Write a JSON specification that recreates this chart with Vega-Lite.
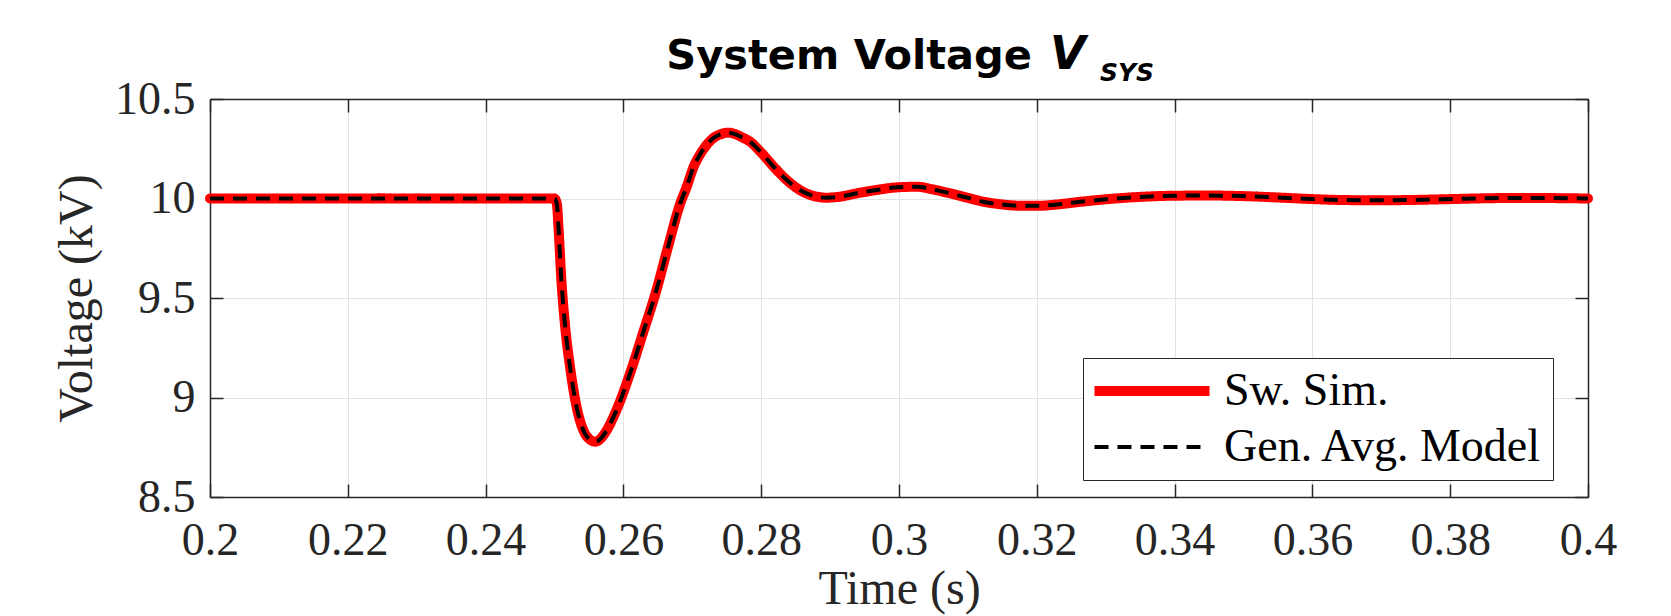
{
  "$schema": "https://vega.github.io/schema/vega-lite/v6.json",
  "width": 1378,
  "height": 398,
  "autosize": {"type": "none"},
  "padding": {"left": 210, "top": 99, "right": 83, "bottom": 119},
  "background": "white",
  "datasets": {
    "curve": [
      {"t": 0.2, "v": 10.0}, {"t": 0.25, "v": 10.0}, {"t": 0.25035, "v": 9.97}, {"t": 0.2506, "v": 9.842}, {"t": 0.251, "v": 9.59},
      {"t": 0.2515, "v": 9.373}, {"t": 0.25225, "v": 9.155}, {"t": 0.2532, "v": 8.954}, {"t": 0.2544, "v": 8.82}, {"t": 0.2551, "v": 8.79},
      {"t": 0.2559, "v": 8.778}, {"t": 0.2566, "v": 8.79}, {"t": 0.2573, "v": 8.82}, {"t": 0.259, "v": 8.937}, {"t": 0.261, "v": 9.125},
      {"t": 0.2629, "v": 9.33}, {"t": 0.2648, "v": 9.54}, {"t": 0.2665, "v": 9.76}, {"t": 0.2682, "v": 9.97}, {"t": 0.2692, "v": 10.06},
      {"t": 0.2702, "v": 10.16}, {"t": 0.2711, "v": 10.22}, {"t": 0.2721, "v": 10.27}, {"t": 0.2731, "v": 10.305}, {"t": 0.2741, "v": 10.323},
      {"t": 0.2752, "v": 10.331}, {"t": 0.2762, "v": 10.324}, {"t": 0.2772, "v": 10.308}, {"t": 0.2784, "v": 10.285}, {"t": 0.2801, "v": 10.227},
      {"t": 0.2818, "v": 10.16}, {"t": 0.2837, "v": 10.093}, {"t": 0.2856, "v": 10.043}, {"t": 0.2876, "v": 10.013}, {"t": 0.2895, "v": 10.004},
      {"t": 0.2914, "v": 10.009}, {"t": 0.2939, "v": 10.026}, {"t": 0.2968, "v": 10.043}, {"t": 0.2997, "v": 10.056}, {"t": 0.3026, "v": 10.059},
      {"t": 0.305, "v": 10.045}, {"t": 0.3074, "v": 10.026}, {"t": 0.3098, "v": 10.005}, {"t": 0.3122, "v": 9.984}, {"t": 0.315, "v": 9.97},
      {"t": 0.318, "v": 9.963}, {"t": 0.32, "v": 9.963}, {"t": 0.323, "v": 9.97}, {"t": 0.326, "v": 9.982}, {"t": 0.33, "v": 9.996},
      {"t": 0.335, "v": 10.008}, {"t": 0.34, "v": 10.014}, {"t": 0.345, "v": 10.015}, {"t": 0.35, "v": 10.012}, {"t": 0.355, "v": 10.005},
      {"t": 0.36, "v": 9.997}, {"t": 0.365, "v": 9.992}, {"t": 0.37, "v": 9.991}, {"t": 0.375, "v": 9.993}, {"t": 0.38, "v": 9.997},
      {"t": 0.385, "v": 10.001}, {"t": 0.39, "v": 10.003}, {"t": 0.395, "v": 10.002}, {"t": 0.4, "v": 10.0}
    ],
    "titleMain": [{"label": "System Voltage"}],
    "titleV": [{"label": "V"}],
    "titleSub": [{"label": "SYS"}]
  },
  "config": {
    "view": {"stroke": null},
    "legend": {
      "orient": "none", "legendX": 873, "legendY": 259, "title": null,
      "labelFont": "Liberation Serif", "labelFontSize": 46, "labelColor": "black", "labelLimit": 600,
      "symbolType": "M-4,0H4", "symbolSize": 827, "symbolOffset": 36, "labelOffset": 49,
      "padding": 10, "rowPadding": 10, "strokeColor": "#262626", "fillColor": "white", "cornerRadius": 0
    }
  },
  "resolve": {"axis": {"x": "independent", "y": "independent"}},
  "layer": [
    {
      "data": {"name": "curve"},
      "mark": {"type": "line", "interpolate": "monotone", "strokeJoin": "round", "strokeCap": "round"},
      "encoding": {
        "x": {"field": "t", "type": "quantitative", "scale": {"domain": [0.2, 0.4], "nice": false, "zero": false},
          "axis": {"orient": "bottom", "values": [0.2, 0.22, 0.24, 0.26, 0.28, 0.3, 0.32, 0.34, 0.36, 0.38, 0.4], "format": ".2~f",
            "labelFont": "Liberation Serif", "labelFontSize": 46, "labelColor": "#262626", "labelPadding": 34, "labelFlush": false, "labelOverlap": false,
            "domainColor": "#262626", "domainWidth": 1.5, "tickColor": "#262626", "tickSize": -13, "tickWidth": 1.5,
            "grid": true, "gridColor": "#e3e3e3", "gridWidth": 1,
            "title": "Time (s)", "titleFont": "Liberation Serif", "titleFontSize": 48, "titleFontWeight": "normal", "titleColor": "#262626", "titlePadding": 2}},
        "y": {"field": "v", "type": "quantitative", "scale": {"domain": [8.5, 10.5], "nice": false, "zero": false},
          "axis": {"orient": "left", "values": [8.5, 9, 9.5, 10, 10.5], "format": ".1~f",
            "labelFont": "Liberation Serif", "labelFontSize": 46, "labelColor": "#262626", "labelPadding": 28, "labelFlush": false, "labelOverlap": false,
            "domainColor": "#262626", "domainWidth": 1.5, "tickColor": "#262626", "tickSize": -13, "tickWidth": 1.5,
            "grid": true, "gridColor": "#e3e3e3", "gridWidth": 1,
            "title": "Voltage (kV)", "titleFont": "Liberation Serif", "titleFontSize": 48, "titleFontWeight": "normal", "titleColor": "#262626", "titlePadding": 13}},
        "color": {"datum": "Sw. Sim.", "scale": {"domain": ["Sw. Sim.", "Gen. Avg. Model"], "range": ["#ff0000", "#000000"]}},
        "strokeDash": {"datum": "Sw. Sim.", "scale": {"domain": ["Sw. Sim.", "Gen. Avg. Model"], "range": [[1, 0], [14, 9]]}},
        "strokeWidth": {"datum": "Sw. Sim.", "scale": {"domain": ["Sw. Sim.", "Gen. Avg. Model"], "range": [10, 4]}}
      }
    },
    {
      "data": {"name": "curve"},
      "mark": {"type": "line", "interpolate": "monotone", "strokeJoin": "round", "strokeCap": "butt"},
      "encoding": {
        "x": {"field": "t", "type": "quantitative", "scale": {"domain": [0.2, 0.4], "nice": false, "zero": false}, "axis": null},
        "y": {"field": "v", "type": "quantitative", "scale": {"domain": [8.5, 10.5], "nice": false, "zero": false}, "axis": null},
        "color": {"datum": "Gen. Avg. Model", "scale": {"domain": ["Sw. Sim.", "Gen. Avg. Model"], "range": ["#ff0000", "#000000"]}},
        "strokeDash": {"datum": "Gen. Avg. Model", "scale": {"domain": ["Sw. Sim.", "Gen. Avg. Model"], "range": [[1, 0], [14, 9]]}},
        "strokeWidth": {"datum": "Gen. Avg. Model", "scale": {"domain": ["Sw. Sim.", "Gen. Avg. Model"], "range": [10, 4]}}
      }
    },
    {
      "data": {"name": "curve"},
      "mark": {"type": "line", "strokeOpacity": 0},
      "encoding": {
        "x": {"field": "t", "type": "quantitative", "scale": {"domain": [0.2, 0.4], "nice": false, "zero": false},
          "axis": {"orient": "top", "values": [0.2, 0.22, 0.24, 0.26, 0.28, 0.3, 0.32, 0.34, 0.36, 0.38, 0.4], "labels": false, "grid": false, "title": null,
            "domainColor": "#262626", "domainWidth": 1.5, "tickColor": "#262626", "tickSize": -13, "tickWidth": 1.5}},
        "y": {"field": "v", "type": "quantitative", "scale": {"domain": [8.5, 10.5], "nice": false, "zero": false},
          "axis": {"orient": "right", "values": [8.5, 9, 9.5, 10, 10.5], "labels": false, "grid": false, "title": null,
            "domainColor": "#262626", "domainWidth": 1.5, "tickColor": "#262626", "tickSize": -13, "tickWidth": 1.5}}
      }
    },
    {
      "data": {"name": "titleMain"},
      "mark": {"type": "text", "align": "right", "baseline": "alphabetic", "font": "DejaVu Sans", "fontSize": 41.5, "fontWeight": "bold", "color": "black"},
      "encoding": {
        "x": {"datum": 0.3193, "type": "quantitative", "scale": {"domain": [0.2, 0.4], "nice": false, "zero": false}, "axis": null},
        "y": {"datum": 10.6508, "type": "quantitative", "scale": {"domain": [8.5, 10.5], "nice": false, "zero": false}, "axis": null},
        "text": {"field": "label"}
      }
    },
    {
      "data": {"name": "titleV"},
      "mark": {"type": "text", "align": "left", "baseline": "alphabetic", "font": "DejaVu Sans", "fontSize": 46, "fontWeight": "bold", "fontStyle": "italic", "color": "black"},
      "encoding": {
        "x": {"datum": 0.32192, "type": "quantitative", "scale": {"domain": [0.2, 0.4], "nice": false, "zero": false}, "axis": null},
        "y": {"datum": 10.6508, "type": "quantitative", "scale": {"domain": [8.5, 10.5], "nice": false, "zero": false}, "axis": null},
        "text": {"field": "label"}
      }
    },
    {
      "data": {"name": "titleSub"},
      "mark": {"type": "text", "align": "left", "baseline": "alphabetic", "font": "DejaVu Sans", "fontSize": 25, "fontWeight": "bold", "fontStyle": "italic", "color": "black"},
      "encoding": {
        "x": {"datum": 0.32917, "type": "quantitative", "scale": {"domain": [0.2, 0.4], "nice": false, "zero": false}, "axis": null},
        "y": {"datum": 10.5905, "type": "quantitative", "scale": {"domain": [8.5, 10.5], "nice": false, "zero": false}, "axis": null},
        "text": {"field": "label"}
      }
    }
  ]
}
